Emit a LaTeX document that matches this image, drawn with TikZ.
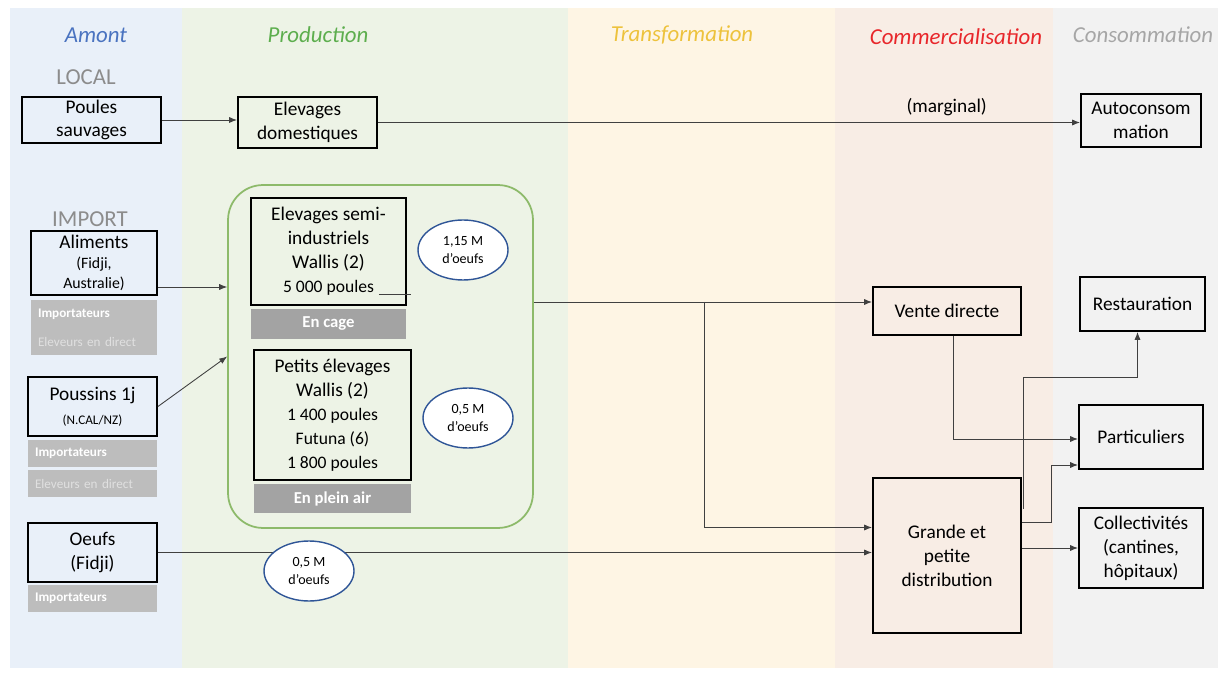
\documentclass[tikz,border=0pt]{standalone}
\usepackage{fontspec}
\setmainfont{Carlito}
\usetikzlibrary{arrows.meta,shapes.geometric,calc}

\definecolor{bgamont}{HTML}{E9F0F9}
\definecolor{bgprod}{HTML}{EDF3E6}
\definecolor{bgtrans}{HTML}{FEF5E4}
\definecolor{bgcomm}{HTML}{F8EDE5}
\definecolor{bgcons}{HTML}{F2F2F2}
\definecolor{hdamont}{HTML}{4A73C0}
\definecolor{hdprod}{HTML}{5DAE4E}
\definecolor{hdtrans}{HTML}{EDC23C}
\definecolor{hdcomm}{HTML}{E8262A}
\definecolor{hdcons}{HTML}{A6A6A6}
\definecolor{origin}{HTML}{8C8C8C}
\definecolor{bandlight}{HTML}{BDBDBD}
\definecolor{banddark}{HTML}{A3A3A3}
\definecolor{bubbleblue}{HTML}{2F5597}
\definecolor{prodgreen}{HTML}{8DBA6A}
\definecolor{linegray}{HTML}{404040}

\newcommand{\smallsz}{\fontsize{9}{11}\selectfont}
\newcommand{\tinysz}{\fontsize{7.5}{9}\selectfont}
\newcommand{\midsz}{\fontsize{10}{12}\selectfont}

\tikzset{
  box/.style={draw=black, line width=1.1pt, align=center, inner sep=1pt,
    font=\fontsize{11}{13.6}\selectfont},
  band/.style={fill=bandlight, text=white, inner sep=0pt, align=left,
    font=\fontsize{7.5}{16.5}\selectfont},
  tag/.style={fill=banddark, text=white, inner sep=0pt,
    font=\fontsize{9.5}{11}\selectfont\bfseries},
  bubble/.style={ellipse, draw=bubbleblue, fill=white, line width=0.8pt,
    minimum width=1.8cm, minimum height=1.2cm, inner sep=0pt, align=center,
    font=\fontsize{8}{10.5}\selectfont},
  arr/.style={draw=linegray, line width=0.5pt, -{Latex[length=4.5pt,width=3.5pt]}},
  link/.style={draw=linegray, line width=0.5pt},
  phase/.style={font=\fontsize{13}{15}\selectfont\itshape},
  origin/.style={text=origin, inner sep=0pt, font=\fontsize{13}{15}\selectfont},
}

\begin{document}
\begin{tikzpicture}[x=0.02cm, y=-0.02cm]
	\useasboundingbox (0,0) rectangle (1223,678);

	% columns of the chain
	\fill[bgamont] (10,8) rectangle (182,668);
	\fill[bgprod] (182,8) rectangle (568,668);
	\fill[bgtrans] (568,8) rectangle (835,668);
	\fill[bgcomm] (835,8) rectangle (1053,668);
	\fill[bgcons] (1053,8) rectangle (1218,668);

	\node[phase, text=hdamont] (hamont) at (96,35) {Amont};
	\node[phase, text=hdprod] (hprod) at (318,35) {Production};
	\node[phase, text=hdtrans] (htrans) at (682,35) {Transformation};
	\node[phase, text=hdcomm] (hcomm) at (956,37) {Commercialisation};
	\node[phase, text=hdcons] (hcons) at (1143,35) {Consommation};

	\node[origin] (local) at (86,77) {LOCAL};
	\node[origin, anchor=base] (import) at (90,227) {IMPORT};

	% local chain
	\node[box, minimum width=2.78cm, minimum height=0.92cm] (pou) at (91.5,120) {Poules\\sauvages};
	\node[box, minimum width=2.78cm, minimum height=1.02cm] (dom) at (307.5,122.5) {Elevages\\domestiques};
	\node[box, minimum width=2.4cm, minimum height=1.06cm] (auto) at (1141,120.5) {Autoconsom\\mation};

	% imports
	\node[box, minimum width=2.52cm, minimum height=1.28cm] (ali) at (94,263) {Aliments\\[-2pt]{\smallsz (Fidji,}\\[-2pt]{\smallsz Australie)}};
	\node[band, minimum width=2.52cm, minimum height=1.1cm, text width=2.24cm] (alib) at (94,327.5) {\textbf{Importateurs}\\{\color{white!88!black}Eleveurs en direct}};
	\node[box, minimum width=2.58cm, minimum height=1.18cm] (pous) at (92.5,406.5) {Poussins 1j\\{\tinysz (N.CAL/NZ)}};
	\node[band, minimum width=2.58cm, minimum height=0.54cm, text width=2.3cm] (pousb1) at (92.5,453.5) {\textbf{Importateurs}};
	\node[band, minimum width=2.58cm, minimum height=0.54cm, text width=2.3cm] (pousb2) at (92.5,483.5) {{\color{white!88!black}Eleveurs en direct}};
	\node[box, minimum width=2.58cm, minimum height=1.18cm] (oeu) at (92.5,552.5) {Oeufs\\(Fidji)};
	\node[band, minimum width=2.58cm, minimum height=0.54cm, text width=2.3cm] (oeub) at (92.5,598.5) {\textbf{Importateurs}};

	% production
	\node[draw=prodgreen, line width=1pt, rounded corners=0.7cm, minimum width=6.1cm, minimum height=6.86cm] (prod) at (380.5,356.5) {};
	\node[box, minimum width=3.1cm, minimum height=2.14cm] (semi) at (328.5,251.5) {Elevages semi-\\industriels\\Wallis (2)\\{\midsz 5 000 poules}};
	\node[tag, minimum width=3.1cm, minimum height=0.6cm] (cage) at (328.5,324) {En cage};
	\node[box, minimum width=3.14cm, minimum height=2.6cm] (pet) at (332.5,415) {Petits élevages\\Wallis (2)\\{\midsz 1 400 poules}\\{\midsz Futuna (6)}\\{\midsz 1 800 poules}};
	\node[tag, minimum width=3.14cm, minimum height=0.58cm] (air) at (332.5,498.5) {En plein air};
	\node[bubble] (q1) at (463,250) {1,15 M\\d’oeufs};
	\node[bubble] (q2) at (468,418) {0,5 M\\d’oeufs};
	\draw[link] ($(semi.south east)+(-28,-12)$) -- ++(32,0);

	% commercialisation and consumption
	\node[box, minimum width=2.96cm, minimum height=0.96cm] (ven) at (947,311) {Vente directe};
	\node[box, minimum width=2.96cm, minimum height=3.1cm] (gpd) at (947,555.5) {Grande et\\petite\\distribution};
	\node[box, minimum width=2.5cm, minimum height=1.08cm] (res) at (1142.5,304) {Restauration};
	\node[box, minimum width=2.48cm, minimum height=1.28cm] (par) at (1141,437) {Particuliers};
	\node[box, minimum width=2.48cm, minimum height=1.6cm] (col) at (1141,548) {Collectivités\\(cantines,\\hôpitaux)};

	% flows
	\draw[arr] (pou.east) -- (pou.east -| dom.west);
	\draw[arr] (dom.east) -- (dom.east -| auto.west) node[pos=.81, above, font=\fontsize{11}{13}\selectfont, text=black] {(marginal)};

	\coordinate (a1) at ($(ali.east)+(0,24)$);
	\draw[arr] (a1) -- (a1 -| prod.west);
	\draw[arr] (pous.east) -- (prod.west);

	\coordinate (v1) at ($(ven.west)+(0,-9)$);
	\coordinate (g1) at ($(gpd.west)+(0,-28)$);
	\coordinate (split) at (704,0);
	\draw[arr] (v1 -| prod.east) -- (v1);
	\draw[arr] (split |- v1) |- (g1);

	\draw[arr] (oeu.east) -- (oeu.east -| gpd.west);
	\node[bubble] (q3) at (309,571) {0,5 M\\d’oeufs};

	\draw[arr] ($(ven.south)+(6,0)$) |- ($(par.west)+(0,2)$);
	\coordinate (g2) at ($(gpd.north east)+(1,32)$);
	\draw[arr] (g2) -- ++(0,-132) -| ($(res.south)+(-5,0)$);
	\coordinate (g3) at ($(gpd.north east)+(0,45)$);
	\coordinate (p2) at ($(par.west)+(0,28)$);
	\draw[arr] (g3) -- ++(29,0) |- (p2);
	\draw[arr] (gpd.east |- col.west) -- (col.west);
\end{tikzpicture}
\end{document}
